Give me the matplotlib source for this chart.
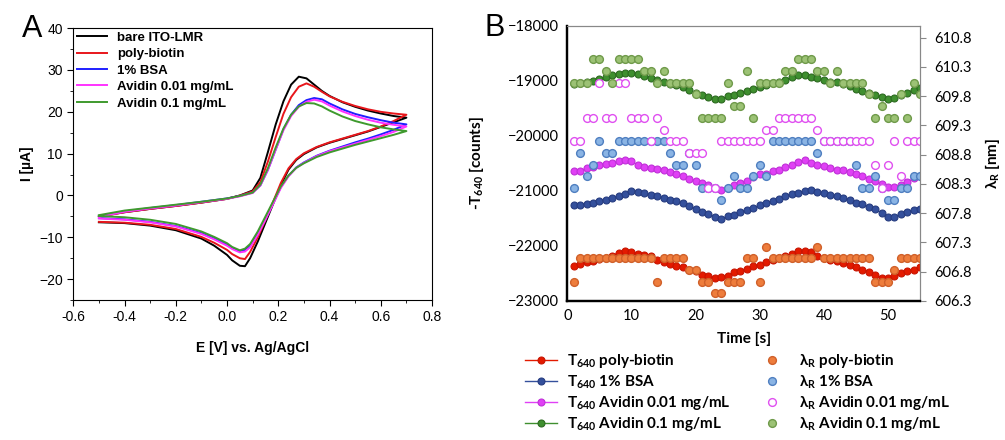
import numpy as np
import matplotlib.pyplot as plt
from matplotlib.ticker import MultipleLocator

plt.rcParams['font.family'] = ['Liberation Sans', 'DejaVu Sans']
plt.rcParams['mathtext.default'] = 'regular'

# ---- panel A: cyclic voltammograms ----
E_fwd = [-0.5, -0.4, -0.3, -0.2, -0.1, 0.0, 0.05, 0.1, 0.13, 0.16, 0.19, 0.22,
         0.25, 0.28, 0.31, 0.34, 0.37, 0.4, 0.45, 0.5, 0.55, 0.6, 0.65, 0.7]
E_rev = [0.7, 0.65, 0.6, 0.55, 0.5, 0.45, 0.4, 0.35, 0.3, 0.27, 0.24, 0.21, 0.18,
         0.15, 0.12, 0.09, 0.07, 0.05, 0.02, 0.0, -0.05, -0.1, -0.2, -0.3, -0.4, -0.5]

bare_fwd = [-5.0, -4.0, -3.2, -2.5, -1.7, -0.8, 0.0, 1.2, 4.2, 10.5, 17.0, 22.5,
            26.5, 28.4, 28.0, 26.5, 25.0, 23.8, 22.3, 21.2, 20.3, 19.6, 19.0, 18.6]
bare_rev = [18.6, 17.5, 16.4, 15.3, 14.4, 13.5, 12.6, 11.5, 9.9, 8.5, 6.2, 2.5, -2.0,
            -6.5, -11.0, -15.0, -16.9, -16.8, -15.5, -14.2, -12.0, -10.3, -8.3, -7.2, -6.6, -6.4]
biotin_fwd = [-5.1, -4.0, -3.2, -2.5, -1.7, -0.8, 0.0, 1.0, 3.2, 8.2, 14.0, 19.5,
              23.5, 26.0, 26.8, 26.0, 24.8, 23.7, 22.4, 21.4, 20.6, 20.0, 19.6, 19.3]
biotin_rev = [19.3, 17.8, 16.5, 15.4, 14.5, 13.6, 12.7, 11.6, 10.1, 8.7, 6.5, 3.0, -1.5,
              -5.8, -10.0, -13.5, -15.2, -15.0, -14.0, -13.0, -11.3, -9.9, -8.0, -7.0, -6.5, -6.3]
bsa_fwd = [-5.0, -3.8, -3.0, -2.3, -1.5, -0.7, -0.1, 0.7, 2.4, 6.2, 11.0, 15.8,
           19.3, 21.6, 22.8, 23.3, 23.0, 22.0, 20.6, 19.5, 18.7, 18.0, 17.4, 17.0]
bsa_rev = [17.0, 15.7, 14.6, 13.6, 12.7, 11.7, 10.7, 9.5, 7.9, 6.7, 4.7, 2.0, -1.8,
           -5.5, -9.0, -12.0, -13.0, -13.3, -12.5, -11.8, -10.3, -9.0, -7.3, -6.3, -5.7, -5.4]
av001_fwd = [-5.1, -3.9, -3.1, -2.4, -1.6, -0.8, -0.2, 0.6, 2.4, 6.2, 11.0, 15.6,
             19.0, 21.2, 22.4, 22.9, 22.5, 21.5, 20.1, 19.0, 18.1, 17.4, 16.9, 16.5]
av001_rev = [16.5, 15.2, 14.2, 13.3, 12.4, 11.5, 10.6, 9.4, 7.8, 6.6, 4.6, 1.8, -2.0,
             -5.8, -9.4, -12.4, -13.4, -13.6, -12.8, -12.0, -10.5, -9.2, -7.4, -6.4, -5.8, -5.5]
av01_fwd = [-4.7, -3.6, -2.9, -2.2, -1.5, -0.7, -0.1, 0.7, 2.6, 6.6, 11.5, 16.0,
            19.3, 21.3, 22.1, 22.0, 21.3, 20.3, 18.9, 17.8, 17.0, 16.3, 15.8, 15.4]
av01_rev = [15.4, 14.5, 13.7, 12.9, 12.1, 11.2, 10.3, 9.2, 7.7, 6.6, 4.8, 2.2, -1.4,
            -5.0, -8.6, -11.6, -12.7, -13.1, -12.3, -11.4, -9.9, -8.6, -6.8, -5.8, -5.2, -4.9]

cv_names = ['bare ITO-LMR', 'poly-biotin', '1% BSA', 'Avidin 0.01 mg/mL', 'Avidin 0.1 mg/mL']
cv_colors = ['#000000', '#e8161b', '#1f1fff', '#ff33ff', '#3f9a2e']

# ---- panel B: transmission and resonance over time ----
time = np.arange(1, 56)

T_biotin = [-22360, -22330, -22300, -22270, -22240, -22210, -22180, -22120, -22100, -22110,
            -22140, -22160, -22190, -22250, -22300, -22330, -22360, -22390, -22430, -22460,
            -22520, -22550, -22590, -22570, -22540, -22480, -22450, -22410, -22370, -22340,
            -22300, -22250, -22220, -22190, -22150, -22100, -22100, -22110, -22180, -22220,
            -22250, -22280, -22310, -22350, -22390, -22430, -22470, -22520, -22580, -22580,
            -22550, -22500, -22460, -22430, -22390]
T_bsa = [-21260, -21250, -21230, -21210, -21190, -21160, -21130, -21090, -21050, -21000,
         -21020, -21040, -21070, -21100, -21130, -21160, -21190, -21220, -21270, -21330,
         -21380, -21420, -21470, -21510, -21460, -21430, -21390, -21350, -21310, -21260,
         -21220, -21180, -21150, -21100, -21060, -21030, -21000, -20990, -21020, -21040,
         -21070, -21100, -21130, -21160, -21210, -21240, -21290, -21330, -21400, -21470,
         -21470, -21420, -21390, -21350, -21320]
T_av001 = [-20630, -20630, -20590, -20560, -20530, -20510, -20490, -20460, -20430, -20460,
           -20530, -20560, -20580, -20600, -20620, -20650, -20690, -20720, -20780, -20810,
           -20860, -20900, -20950, -20980, -20950, -20900, -20850, -20810, -20750, -20700,
           -20690, -20640, -20610, -20560, -20530, -20480, -20440, -20500, -20520, -20550,
           -20580, -20610, -20620, -20650, -20690, -20720, -20780, -20820, -20880, -20930,
           -20930, -20890, -20840, -20770, -20730]
T_av01 = [-19060, -19040, -19020, -19000, -18960, -18930, -18900, -18870, -18860, -18850,
          -18880, -18910, -18940, -18990, -19020, -19050, -19070, -19110, -19160, -19220,
          -19250, -19290, -19320, -19330, -19280, -19250, -19210, -19180, -19140, -19110,
          -19070, -19040, -19020, -18980, -18930, -18900, -18900, -18930, -18950, -18980,
          -19010, -19020, -19050, -19090, -19140, -19180, -19220, -19250, -19300, -19320,
          -19310, -19250, -19210, -19160, -19120]

lam_biotin = [606.63, 607.03, 607.03, 607.03, 607.03, 607.03, 607.03, 607.03, 607.03, 607.03,
              607.03, 607.03, 607.03, 606.63, 607.03, 607.03, 607.03, 607.03, 606.83, 606.83,
              606.63, 606.63, 606.43, 606.43, 606.63, 606.63, 606.63, 607.03, 607.03, 606.63,
              607.23, 607.03, 607.03, 607.03, 607.03, 607.03, 607.03, 607.03, 607.23, 607.03,
              607.03, 607.03, 607.03, 607.03, 607.03, 607.03, 607.03, 606.63, 606.63, 606.63,
              606.83, 607.03, 607.03, 607.03, 607.03]
lam_bsa = [608.23, 608.83, 608.43, 608.63, 609.03, 608.83, 608.83, 609.03, 609.03, 609.03,
           609.03, 609.03, 609.03, 609.03, 609.03, 608.83, 608.63, 608.63, 608.83, 608.63,
           608.23, 608.23, 608.23, 608.03, 608.23, 608.43, 608.23, 608.23, 608.43, 608.63,
           608.43, 609.03, 609.03, 609.03, 609.03, 609.03, 609.03, 609.03, 608.83, 609.03,
           609.03, 609.03, 609.03, 609.03, 608.63, 608.23, 608.23, 608.43, 608.23, 608.03,
           608.03, 608.23, 608.23, 608.43, 608.43]
lam_av001 = [609.03, 609.03, 609.43, 609.43, 610.03, 609.43, 609.43, 610.03, 610.03, 609.43,
             609.43, 609.43, 609.03, 609.43, 609.23, 609.03, 609.03, 609.03, 608.83, 608.83,
             608.83, 608.23, 608.23, 609.03, 609.03, 609.03, 609.03, 609.03, 609.03, 609.03,
             609.23, 609.23, 609.43, 609.43, 609.43, 609.43, 609.43, 609.43, 609.23, 609.03,
             609.03, 609.03, 609.03, 609.03, 609.03, 609.03, 609.03, 608.63, 608.23, 608.63,
             609.03, 608.43, 609.03, 609.03, 609.03]
lam_av01 = [610.03, 610.03, 610.03, 610.43, 610.43, 610.23, 610.03, 610.43, 610.43, 610.43,
            610.43, 610.23, 610.23, 610.03, 610.23, 610.03, 610.03, 610.03, 610.03, 609.83,
            609.43, 609.43, 609.43, 609.43, 610.03, 609.63, 609.63, 610.23, 609.43, 610.03,
            610.03, 610.03, 610.03, 610.23, 610.23, 610.43, 610.43, 610.43, 610.23, 610.23,
            610.03, 610.23, 610.03, 610.03, 610.03, 610.03, 609.83, 609.43, 609.63, 609.43,
            609.43, 609.83, 609.43, 610.03, 609.83]

sample_names = ['poly-biotin', '1% BSA', 'Avidin 0.01 mg/mL', 'Avidin 0.1 mg/mL']
T_colors = ['#e31a00', '#34509c', '#e040f5', '#3f8f2f']
T_edges = ['#c81400', '#263c80', '#c030d8', '#2c6a20']
lam_faces = ['#ee7d3c', '#8ab4e4', '#ffffff', '#9cc275']
lam_edges = ['#d0602a', '#4f7fc0', '#e050f0', '#6f9a4a']

fig = plt.figure(figsize=(10.05, 4.4), dpi=100)

# ---------- A ----------
ax = fig.add_axes([0.0729, 0.318, 0.357, 0.618])
fwd = [bare_fwd, biotin_fwd, bsa_fwd, av001_fwd, av01_fwd]
rev = [bare_rev, biotin_rev, bsa_rev, av001_rev, av01_rev]
for i in range(5):
    ax.plot(E_fwd + E_rev[1:], fwd[i] + rev[i][1:], color=cv_colors[i], lw=1.4,
            label=cv_names[i], solid_joinstyle='round')
ax.set_xlim(-0.6, 0.8)
ax.set_ylim(-25, 40)
ax.xaxis.set_minor_locator(MultipleLocator(0.1))
ax.yaxis.set_major_locator(MultipleLocator(10))
ax.yaxis.set_minor_locator(MultipleLocator(5))
ax.set_xticks(np.arange(-0.6, 0.81, 0.2))
ax.set_xticklabels(['-0.6', '-0.4', '-0.2', '0.0', '0.2', '0.4', '0.6', '0.8'])
ax.tick_params(which='both', direction='out', labelsize=10, top=False, right=False)
ax.tick_params(which='major', length=4)
ax.tick_params(which='minor', length=2.5)
ax.set_xlabel('E [V] vs. Ag/AgCl', fontweight='bold', fontsize=10, labelpad=12)
ax.set_ylabel('I [µA]', fontweight='bold', fontsize=10, labelpad=4)
ax.legend(loc='upper left', bbox_to_anchor=(0.0, 1.0), frameon=False,
          prop={'weight': 'bold', 'size': 9.5}, handlelength=2.3, handletextpad=0.8,
          labelspacing=0.32, borderaxespad=0.15, borderpad=0.1)
fig.text(0.022, 0.915, 'A', fontsize=22)

# ---------- B ----------
bfont = ['Lato', 'DejaVu Sans']
axb = fig.add_axes([0.5645, 0.316, 0.351, 0.625])
axr = axb.twinx()
T_all = [T_biotin, T_bsa, T_av001, T_av01]
lam_all = [lam_biotin, lam_bsa, lam_av001, lam_av01]
T_handles = []
lam_handles = []
for i in range(4):
    h, = axb.plot(time, T_all[i], color=T_colors[i], lw=1.0, marker='o', ms=5,
                  mfc=T_colors[i], mec=T_edges[i], mew=0.8)
    T_handles.append(h)
for i in range(4):
    h, = axr.plot(time, lam_all[i], ls='none', marker='o', ms=5.6,
                  mfc=lam_faces[i], mec=lam_edges[i], mew=1.0)
    lam_handles.append(h)

axb.set_xlim(0, 55)
axb.set_ylim(-23000, -18000)
axr.set_ylim(606.3, 611.0)
axb.set_xticks([0, 10, 20, 30, 40, 50])
axb.set_yticks([-23000, -22000, -21000, -20000, -19000, -18000])
axr.set_yticks([606.3, 606.8, 607.3, 607.8, 608.3, 608.8, 609.3, 609.8, 610.3, 610.8])
axr.set_yticklabels(['606.3', '606.8', '607.3', '607.8', '608.3', '608.8',
                     '609.3', '609.8', '610.3', '610.8'])
axb.tick_params(axis='both', length=0, labelsize=10.5, pad=6)
axr.tick_params(axis='y', length=4, color='#888888', labelsize=10.5, pad=6)
for a in (axb, axr):
    for lbl in a.get_xticklabels() + a.get_yticklabels():
        lbl.set_family(bfont)
for s in ('left', 'bottom'):
    axb.spines[s].set_linewidth(1.6)
    axr.spines[s].set_linewidth(1.6)
for s in ('top', 'right'):
    axb.spines[s].set_color('#888888')
    axr.spines[s].set_color('#888888')
    axr.spines[s].set_linewidth(0.8)

axb.set_xlabel('Time [s]', fontweight='bold', fontsize=11, family=bfont, labelpad=6)
axb.set_ylabel('-T$_{640}$ [counts]', fontweight='bold', fontsize=11, family=bfont, labelpad=16)
axr.set_ylabel('λ$_R$ [nm]', fontweight='bold', fontsize=11, family=bfont, labelpad=8)
fig.text(0.482, 0.918, 'B', fontsize=22)

lprop = {'weight': 'bold', 'size': 11, 'family': bfont}
fig.legend(T_handles, ['T$_{640}$ ' + n for n in sample_names], loc='upper left',
           bbox_to_anchor=(0.522, 0.2), frameon=False, prop=lprop,
           handlelength=2.1, handletextpad=0.7, labelspacing=0.22,
           borderpad=0, borderaxespad=0)
fig.legend(lam_handles, ['λ$_R$ ' + n for n in sample_names], loc='upper left',
           bbox_to_anchor=(0.752, 0.2), frameon=False, prop=lprop,
           handlelength=2.1, handletextpad=0.7, labelspacing=0.22,
           borderpad=0, borderaxespad=0)

fig.savefig('out.png', dpi=100)
